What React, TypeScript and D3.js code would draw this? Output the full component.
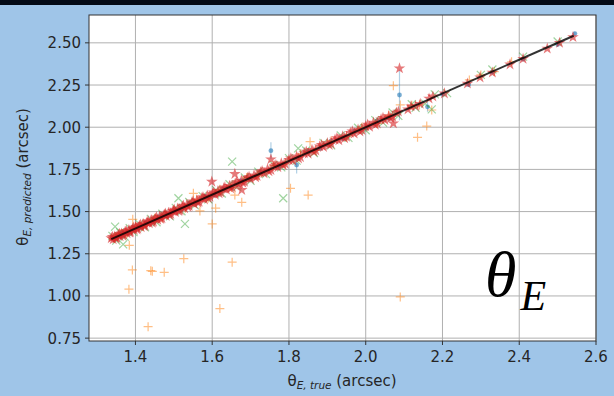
import React from "react";
import { scaleLinear, symbol, symbolStar, symbolCircle } from "d3";

const X_TICKS = [1.4, 1.6, 1.8, 2.0, 2.2, 2.4, 2.6];
const Y_TICKS = [0.75, 1.0, 1.25, 1.5, 1.75, 2.0, 2.25, 2.5];
const LINE = [1.337, 2.542];

// blue circles (with error bars): [true, predicted, err]
const BLUE = [
  [1.34, 1.345, 0.01], [1.352, 1.348, 0.01], [1.366, 1.372, 0.012], [1.38, 1.374, 0.01],
  [1.395, 1.402, 0.012], [1.41, 1.404, 0.01], [1.428, 1.434, 0.012], [1.445, 1.44, 0.01],
  [1.462, 1.47, 0.012], [1.48, 1.474, 0.01], [1.5, 1.506, 0.012], [1.52, 1.514, 0.01],
  [1.54, 1.548, 0.012], [1.56, 1.553, 0.01], [1.582, 1.59, 0.012], [1.605, 1.598, 0.01],
  [1.628, 1.635, 0.012], [1.65, 1.643, 0.01], [1.675, 1.682, 0.012], [1.7, 1.694, 0.01],
  [1.725, 1.732, 0.012], [1.753, 1.861, 0.05], [1.775, 1.768, 0.01], [1.82, 1.776, 0.05],
  [1.85, 1.857, 0.012], [1.88, 1.873, 0.01], [1.91, 1.917, 0.012], [1.94, 1.933, 0.01],
  [1.97, 1.977, 0.012], [2.0, 1.994, 0.01], [2.03, 2.037, 0.012], [2.06, 2.053, 0.01],
  [2.088, 2.191, 0.15], [2.161, 2.121, 0.03], [2.2, 2.196, 0.01], [2.268, 2.252, 0.01],
  [2.33, 2.326, 0.01], [2.41, 2.404, 0.01], [2.5, 2.49, 0.01], [2.545, 2.555, 0.01]
];

// orange plus
const ORANGE = [
  [1.526, 1.221], [1.652, 1.2], [1.392, 1.154], [1.44, 1.15], [1.444, 1.146], [1.475, 1.14],
  [1.383, 1.04], [1.62, 0.925], [1.433, 0.818], [2.09, 0.994], [1.677, 1.555], [1.609, 1.52],
  [1.6, 1.427], [1.568, 1.504], [1.393, 1.454], [1.384, 1.3], [2.072, 2.246], [2.09, 2.132],
  [2.159, 2.007], [2.135, 1.94], [2.172, 2.102], [1.804, 1.638], [1.85, 1.598], [1.855, 1.914],
  [1.551, 1.608], [1.659, 1.598],
  [1.345, 1.34], [1.36, 1.37], [1.378, 1.37], [1.4, 1.41], [1.42, 1.412], [1.45, 1.46],
  [1.47, 1.462], [1.5, 1.51], [1.53, 1.52], [1.56, 1.572], [1.59, 1.58], [1.62, 1.632],
  [1.65, 1.642], [1.69, 1.702], [1.72, 1.712], [1.76, 1.772], [1.79, 1.782], [1.83, 1.842],
  [1.87, 1.862], [1.91, 1.92], [1.95, 1.942], [1.99, 2.0], [2.03, 2.022], [2.06, 2.07],
  [2.12, 2.13], [2.14, 2.132], [2.27, 2.28], [2.3, 2.31], [2.335, 2.33], [2.38, 2.388]
];

// green x
const GREEN = [
  [1.652, 1.796], [1.785, 1.579], [1.824, 1.875], [1.529, 1.427], [1.512, 1.579],
  [1.368, 1.306], [1.347, 1.411], [2.172, 2.106],
  [1.34, 1.356], [1.35, 1.328], [1.36, 1.377], [1.372, 1.352], [1.385, 1.402], [1.395, 1.378],
  [1.41, 1.427], [1.425, 1.407], [1.44, 1.457], [1.455, 1.437], [1.47, 1.487], [1.49, 1.472],
  [1.505, 1.522], [1.52, 1.502], [1.54, 1.557], [1.555, 1.537], [1.575, 1.592], [1.59, 1.572],
  [1.61, 1.627], [1.625, 1.607], [1.645, 1.662], [1.665, 1.647], [1.685, 1.702], [1.7, 1.682],
  [1.72, 1.737], [1.74, 1.722], [1.76, 1.777], [1.78, 1.762], [1.8, 1.817], [1.82, 1.802],
  [1.845, 1.862], [1.865, 1.847], [1.89, 1.907], [1.91, 1.892], [1.935, 1.952], [1.955, 1.937],
  [1.98, 1.997], [2.0, 1.982], [2.025, 2.042], [2.045, 2.027], [2.07, 2.087], [2.085, 2.067],
  [2.12, 2.136], [2.13, 2.115], [2.155, 2.14], [2.18, 2.195], [2.212, 2.202], [2.3, 2.31],
  [2.33, 2.342], [2.41, 2.418], [2.5, 2.508]
];

// red stars
const RED = [
  [2.088, 2.349], [1.753, 1.81], [1.659, 1.723], [1.599, 1.677], [1.677, 1.628], [2.072, 2.023],
  [1.337, 1.342], [1.342, 1.335], [1.346, 1.352], [1.351, 1.344], [1.355, 1.361], [1.36, 1.353],
  [1.364, 1.37], [1.369, 1.362], [1.373, 1.38], [1.378, 1.371], [1.383, 1.39], [1.387, 1.379],
  [1.392, 1.398], [1.397, 1.391], [1.401, 1.41], [1.406, 1.399], [1.41, 1.416], [1.415, 1.407],
  [1.42, 1.427], [1.425, 1.418], [1.43, 1.436], [1.436, 1.43], [1.441, 1.45], [1.447, 1.44],
  [1.452, 1.458], [1.458, 1.451], [1.463, 1.47], [1.469, 1.46], [1.475, 1.482], [1.48, 1.474],
  [1.486, 1.493], [1.492, 1.485], [1.498, 1.504], [1.504, 1.497], [1.51, 1.518], [1.516, 1.508],
  [1.522, 1.53], [1.528, 1.52], [1.534, 1.541], [1.54, 1.533], [1.547, 1.553], [1.553, 1.546],
  [1.56, 1.567], [1.566, 1.558], [1.573, 1.58], [1.58, 1.572], [1.587, 1.594], [1.594, 1.587],
  [1.601, 1.607], [1.608, 1.6], [1.615, 1.622], [1.622, 1.614], [1.63, 1.637], [1.637, 1.63],
  [1.645, 1.652], [1.652, 1.645], [1.66, 1.667], [1.668, 1.66], [1.676, 1.684], [1.684, 1.676],
  [1.692, 1.7], [1.7, 1.693], [1.709, 1.715], [1.717, 1.71], [1.726, 1.733], [1.735, 1.727],
  [1.744, 1.75], [1.753, 1.746], [1.762, 1.77], [1.771, 1.763], [1.78, 1.786], [1.79, 1.783],
  [1.8, 1.806], [1.81, 1.802], [1.82, 1.827], [1.83, 1.822], [1.84, 1.846], [1.85, 1.843],
  [1.86, 1.866], [1.87, 1.862], [1.88, 1.887], [1.89, 1.883], [1.9, 1.906], [1.91, 1.902],
  [1.92, 1.927], [1.93, 1.922], [1.94, 1.946], [1.95, 1.943], [1.96, 1.967], [1.97, 1.962],
  [1.98, 1.986], [1.99, 1.983], [2.0, 2.006], [2.01, 2.002], [2.02, 2.027], [2.03, 2.022],
  [2.04, 2.046], [2.05, 2.043], [2.06, 2.066], [2.07, 2.062], [2.08, 2.087],
  [1.34, 1.35], [1.349, 1.341], [1.358, 1.368], [1.367, 1.357], [1.376, 1.386], [1.385, 1.375],
  [1.395, 1.405], [1.404, 1.394], [1.413, 1.423], [1.423, 1.413], [1.433, 1.443], [1.444, 1.434],
  [1.455, 1.465], [1.466, 1.456], [1.478, 1.488], [1.489, 1.479], [1.501, 1.511], [1.513, 1.503],
  [1.525, 1.535], [1.537, 1.527], [1.55, 1.56], [1.563, 1.553], [1.576, 1.586], [1.59, 1.58],
  [1.604, 1.614], [1.618, 1.608], [1.633, 1.643], [1.648, 1.638], [1.664, 1.674], [1.68, 1.67],
  [1.696, 1.706], [1.713, 1.703], [1.73, 1.74], [1.748, 1.738], [1.766, 1.776], [1.785, 1.775],
  [1.805, 1.815], [1.825, 1.815], [1.845, 1.855], [1.865, 1.855], [1.885, 1.895], [1.905, 1.895],
  [1.925, 1.935], [1.945, 1.935], [1.965, 1.975], [1.985, 1.975], [2.005, 2.015], [2.025, 2.015],
  [2.045, 2.055], [2.065, 2.055], [2.085, 2.093],
  [2.11, 2.105], [2.118, 2.124], [2.13, 2.125], [2.142, 2.138], [2.165, 2.17], [2.175, 2.182],
  [2.205, 2.2], [2.265, 2.258], [2.298, 2.295], [2.33, 2.324], [2.376, 2.372], [2.41, 2.405],
  [2.473, 2.466], [2.505, 2.5], [2.54, 2.534]
];

const W = 614, H = 396;
const BG = "#9fc5e8";
const C0 = "#1f77b4", C1 = "#ff7f0e", C2 = "#2ca02c", C3 = "#d62728";

export default function App() {
  const x = scaleLinear().domain([1.279, 2.6]).range([89, 596]);
  const y = scaleLinear().domain([0.733, 2.665]).range([341, 15]);
  const star = symbol().type(symbolStar).size(42)();
  const dot = symbol().type(symbolCircle).size(18)();
  const tickFont = { fontFamily: "DejaVu Sans", fontSize: 15, fill: "#262626" };

  return (
    <svg width={W} height={H} style={{ position: "absolute", left: 0, top: 0 }}>
      <rect width={W} height={H} fill={BG} />
      <rect width={W} height={5} fill="#030a16" />
      <rect x={89} y={15} width={507} height={326} fill="#fff" />

      {X_TICKS.map(t => (
        <line key={"gx" + t} x1={x(t)} x2={x(t)} y1={15} y2={341} stroke="#b0b0b0" strokeWidth={1} />
      ))}
      {Y_TICKS.map(t => (
        <line key={"gy" + t} x1={89} x2={596} y1={y(t)} y2={y(t)} stroke="#b0b0b0" strokeWidth={1} />
      ))}

      {BLUE.map((d, i) => (
        <line key={"e" + i} x1={x(d[0])} x2={x(d[0])} y1={y(d[1] - d[2])} y2={y(d[1] + d[2])}
          stroke={C0} strokeOpacity={0.35} strokeWidth={1.2} />
      ))}
      {BLUE.map((d, i) => (
        <path key={"b" + i} d={dot} transform={`translate(${x(d[0])},${y(d[1])})`} fill={C0} fillOpacity={0.6} />
      ))}
      {ORANGE.map((d, i) => (
        <path key={"o" + i} d="M-4.5,0H4.5M0,-4.5V4.5" transform={`translate(${x(d[0])},${y(d[1])})`}
          stroke={C1} strokeOpacity={0.5} strokeWidth={1.2} fill="none" />
      ))}
      {GREEN.map((d, i) => (
        <path key={"g" + i} d="M-4,-4L4,4M-4,4L4,-4" transform={`translate(${x(d[0])},${y(d[1])})`}
          stroke={C2} strokeOpacity={0.45} strokeWidth={1.2} fill="none" />
      ))}
      {RED.map((d, i) => (
        <path key={"r" + i} d={star} transform={`translate(${x(d[0])},${y(d[1])})`} fill={C3} fillOpacity={0.62} />
      ))}

      <line x1={x(LINE[0])} y1={y(LINE[0])} x2={x(LINE[1])} y2={y(LINE[1])} stroke="#000" strokeOpacity={0.8} strokeWidth={2} />

      <rect x={89} y={15} width={507} height={326} fill="none" stroke="#333" strokeWidth={1} />

      {X_TICKS.map(t => (
        <g key={"tx" + t}>
          <line x1={x(t)} x2={x(t)} y1={341} y2={345} stroke="#333" />
          <text x={x(t)} y={362} textAnchor="middle" {...tickFont}>{t.toFixed(1)}</text>
        </g>
      ))}
      {Y_TICKS.map(t => (
        <g key={"ty" + t}>
          <line x1={85} x2={89} y1={y(t)} y2={y(t)} stroke="#333" />
          <text x={81} y={y(t) + 5.5} textAnchor="end" {...tickFont}>{t.toFixed(2)}</text>
        </g>
      ))}

      <text x={342} y={386} textAnchor="middle" {...tickFont}>
        <tspan>θ</tspan>
        <tspan fontSize={10.5} fontStyle="italic" dy={3}>E, true</tspan>
        <tspan dy={-3}> (arcsec)</tspan>
      </text>
      <text transform="translate(28,177) rotate(-90)" textAnchor="middle" {...tickFont}>
        <tspan>θ</tspan>
        <tspan fontSize={10.5} fontStyle="italic" dy={3}>E, predicted</tspan>
        <tspan dy={-3}> (arcsec)</tspan>
      </text>

      <text x={485} y={296} fontFamily="Liberation Serif" fontStyle="italic" fontSize={64} fill="#000">
        θ
        <tspan fontSize={42} dx={4} dy={14}>E</tspan>
      </text>
    </svg>
  );
}
